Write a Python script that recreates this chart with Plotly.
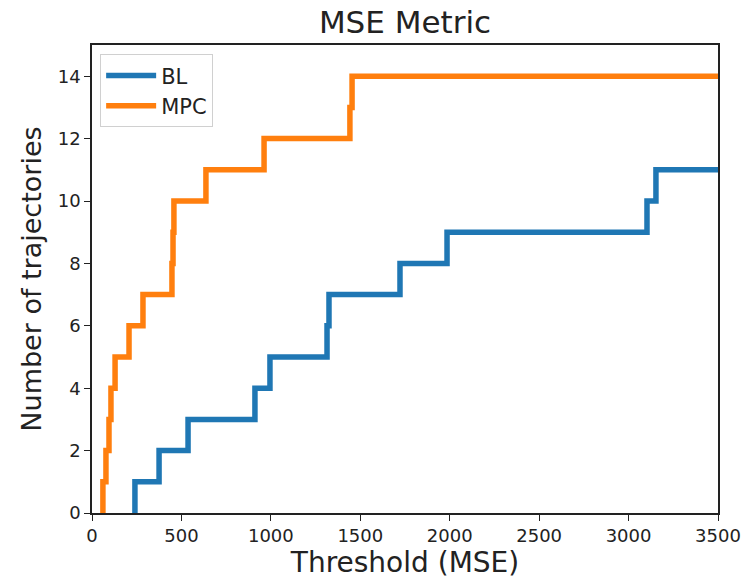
import plotly.graph_objects as go

# Thresholds (MSE) at which the cumulative count of trajectories increments
bl_thresholds = [240, 375, 537, 911, 995, 1314, 1325, 1722, 1985, 3103, 3153]
mpc_thresholds = [61, 78, 95, 106, 129, 207, 285, 447, 453, 458, 637, 962, 1442, 1454]
x_max = 3500
x_ticks = [0, 500, 1000, 1500, 2000, 2500, 3000, 3500]
y_ticks = [0, 2, 4, 6, 8, 10, 12, 14]


def step_xy(thr, xend):
    xs = [thr[0]] + list(thr) + [xend]
    ys = [0] + list(range(1, len(thr) + 1)) + [len(thr)]
    return xs, ys


fig = go.Figure()
for name, thr, color in [("BL", bl_thresholds, "#1f77b4"), ("MPC", mpc_thresholds, "#ff7f0e")]:
    xs, ys = step_xy(thr, x_max + 50)
    fig.add_trace(go.Scatter(x=xs, y=ys, mode="lines", name=name,
                             line=dict(color=color, width=5.5, shape="hv")))

font = "DejaVu Sans"
fig.update_layout(
    width=754, height=579,
    margin=dict(l=92, r=36, t=45, b=66),
    plot_bgcolor="white", paper_bgcolor="white",
    title=dict(text="MSE Metric", x=(92 + 313) / 754, xanchor="center", y=0.962, yanchor="middle",
               font=dict(family=font, size=31, color="#222")),
    legend=dict(x=0.013, y=0.98, xanchor="left", yanchor="top", itemwidth=50,
                bgcolor="white", bordercolor="#d0d0d0", borderwidth=1,
                font=dict(family=font, size=21, color="#222")),
    font=dict(family=font, color="#222"),
)
fig.add_annotation(text="Number of trajectories", textangle=-90, xref="paper", yref="paper",
                   x=-0.098, y=0.5, xanchor="center", yanchor="middle", showarrow=False,
                   font=dict(family=font, size=27, color="#222"))
fig.update_xaxes(range=[0, x_max], tickvals=x_ticks, ticks="outside", ticklen=6, tickwidth=1.3,
                 tickcolor="#222", showline=True, linecolor="#222", linewidth=1.5, mirror=True,
                 showgrid=False, zeroline=False, tickfont=dict(family=font, size=18, color="#222"),
                 automargin=False,
                 title=dict(text="Threshold (MSE)", font=dict(family=font, size=28, color="#222")))
fig.update_yaxes(range=[0, 15], tickvals=y_ticks, ticks="outside", ticklen=6, tickwidth=1.3,
                 tickcolor="#222", showline=True, linecolor="#222", linewidth=1.5, mirror=True,
                 showgrid=False, zeroline=False, tickfont=dict(family=font, size=18, color="#222"),
                 automargin=False)

fig.write_html("out.html", config={"displayModeBar": False},
               post_script="document.body.style.margin='0';document.body.style.overflow='hidden';")
